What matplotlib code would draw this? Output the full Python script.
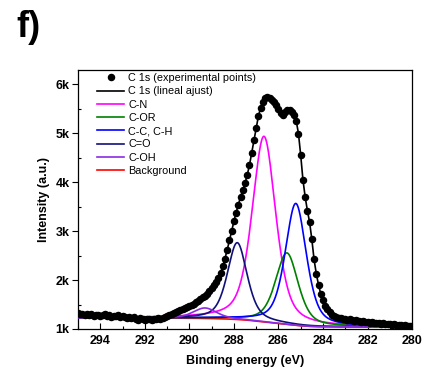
import numpy as np
import matplotlib
matplotlib.use("Agg")
import matplotlib.pyplot as plt
from matplotlib.ticker import MultipleLocator, FuncFormatter

plt.rcParams['font.family'] = ['Liberation Sans', 'DejaVu Sans']

# C 1s spectrum, 0.1 eV steps from 295.0 down to 280.0 eV
energy = [
    295.0, 294.9, 294.8, 294.7, 294.6, 294.5, 294.4, 294.3, 294.2, 294.1,
    294.0, 293.9, 293.8, 293.7, 293.6, 293.5, 293.4, 293.3, 293.2, 293.1,
    293.0, 292.9, 292.8, 292.7, 292.6, 292.5, 292.4, 292.3, 292.2, 292.1,
    292.0, 291.9, 291.8, 291.7, 291.6, 291.5, 291.4, 291.3, 291.2, 291.1,
    291.0, 290.9, 290.8, 290.7, 290.6, 290.5, 290.4, 290.3, 290.2, 290.1,
    290.0, 289.9, 289.8, 289.7, 289.6, 289.5, 289.4, 289.3, 289.2, 289.1,
    289.0, 288.9, 288.8, 288.7, 288.6, 288.5, 288.4, 288.3, 288.2, 288.1,
    288.0, 287.9, 287.8, 287.7, 287.6, 287.5, 287.4, 287.3, 287.2, 287.1,
    287.0, 286.9, 286.8, 286.7, 286.6, 286.5, 286.4, 286.3, 286.2, 286.1,
    286.0, 285.9, 285.8, 285.7, 285.6, 285.5, 285.4, 285.3, 285.2, 285.1,
    285.0, 284.9, 284.8, 284.7, 284.6, 284.5, 284.4, 284.3, 284.2, 284.1,
    284.0, 283.9, 283.8, 283.7, 283.6, 283.5, 283.4, 283.3, 283.2, 283.1,
    283.0, 282.9, 282.8, 282.7, 282.6, 282.5, 282.4, 282.3, 282.2, 282.1,
    282.0, 281.9, 281.8, 281.7, 281.6, 281.5, 281.4, 281.3, 281.2, 281.1,
    281.0, 280.9, 280.8, 280.7, 280.6, 280.5, 280.4, 280.3, 280.2, 280.1,
    280.0,
]
intensity = [
    1320, 1300, 1310, 1290, 1300, 1280, 1300, 1270, 1290, 1280,
    1270, 1290, 1300, 1270, 1280, 1250, 1270, 1260, 1280, 1250,
    1260, 1240, 1230, 1250, 1220, 1240, 1210, 1190, 1220, 1200,
    1190, 1210, 1200, 1190, 1210, 1200, 1220, 1210, 1230, 1240,
    1260, 1280, 1300, 1320, 1340, 1360, 1390, 1410, 1430, 1450,
    1470, 1500, 1520, 1550, 1580, 1610, 1650, 1680, 1720, 1770,
    1830, 1890, 1960, 2040, 2150, 2280, 2440, 2620, 2810, 3000,
    3200, 3380, 3540, 3700, 3840, 3980, 4150, 4350, 4600, 4860,
    5100, 5350, 5520, 5630, 5720, 5750, 5720, 5680, 5630, 5580,
    5500, 5420, 5380, 5440, 5480, 5470, 5440, 5380, 5250, 4990,
    4550, 4050, 3700, 3420, 3180, 2830, 2420, 2130, 1900, 1720,
    1590, 1480, 1400, 1340, 1290, 1260, 1240, 1230, 1220, 1210,
    1200, 1190, 1200, 1180, 1170, 1180, 1160, 1150, 1160, 1140,
    1150, 1130, 1140, 1120, 1130, 1120, 1110, 1120, 1100, 1110,
    1100, 1090, 1100, 1080, 1090, 1080, 1070, 1080, 1070, 1060,
    1070,
]

# Fitted components: centre (eV), height above background, FWHM (eV)
comp_labels = ['C-N', 'C-OR', 'C-C, C-H', 'C=O', 'C-OH']
comp_colors = ['#ff00ff', '#008000', '#0000ff', '#10107a', '#8a2be2']
comp_center = [286.65, 285.62, 285.22, 287.85, 289.30]
comp_height = [3790, 1460, 2490, 1570, 215]
comp_fwhm = [1.25, 1.20, 1.12, 1.05, 1.25]
gl_mix = 0.5

# Background end levels (high and low binding energy side)
bg_high, bg_low = 1232, 1040

x = np.array(energy)
y = np.array(intensity, dtype=float)

# Shirley-type background built from the measured spectrum
order = np.argsort(x)
xs, ys = x[order], y[order]
sig = np.clip(ys - bg_low, 0, None)
cum = np.concatenate([[0], np.cumsum(0.5 * (sig[1:] + sig[:-1]) * np.diff(xs))])
bg_sorted = bg_low + (bg_high - bg_low) * cum / cum[-1]
xf = np.linspace(280.0, 295.0, 1201)
bg_f = np.interp(xf, xs, bg_sorted)


def pseudo_voigt(e, c, h, w, eta):
    d2 = ((e - c) / w) ** 2
    return h * ((1 - eta) * np.exp(-4 * np.log(2) * d2) + eta / (1 + 4 * d2))


fig = plt.figure(figsize=(4.27, 3.81), dpi=100)
ax = fig.add_axes([0.1827, 0.1365, 0.7823, 0.6795])

ax.plot(x, y, 'o', color='black', ms=4.4, label='C 1s (experimental points)', zorder=5)
ax.plot(x, y, '-', color='black', lw=1.2, label='C 1s (lineal ajust)', zorder=6)
for lab, col, c, h, w in zip(comp_labels, comp_colors, comp_center, comp_height, comp_fwhm):
    ax.plot(xf, bg_f + pseudo_voigt(xf, c, h, w, gl_mix), color=col, lw=1.2, label=lab, zorder=4)
ax.plot(xf, bg_f, color='#ff0000', lw=1.2, label='Background', zorder=3)

ax.set_xlim(295, 280)
ax.set_ylim(1000, 6290)
ax.xaxis.set_major_locator(MultipleLocator(2))
ax.xaxis.set_minor_locator(MultipleLocator(1))
ax.yaxis.set_major_locator(MultipleLocator(1000))
ax.yaxis.set_minor_locator(MultipleLocator(500))
ax.yaxis.set_major_formatter(FuncFormatter(lambda v, p: f"{int(round(v / 1000))}k"))
ax.xaxis.set_major_formatter(FuncFormatter(lambda v, p: f"{int(round(v))}"))

ax.tick_params(axis='x', which='major', direction='in', length=4, width=0.8, labelsize=9, pad=4)
ax.tick_params(axis='x', which='minor', direction='in', length=2, width=0.8)
ax.tick_params(axis='y', which='major', direction='out', length=4, width=0.8, labelsize=9, pad=2)
ax.tick_params(axis='y', which='minor', direction='in', length=2, width=0.8)
for lbl in ax.get_xticklabels() + ax.get_yticklabels():
    lbl.set_fontweight('bold')
for s in ax.spines.values():
    s.set_linewidth(0.9)

ax.set_xlabel('Binding energy (eV)', fontsize=9, fontweight='bold', labelpad=6)
ax.set_ylabel('Intensity (a.u.)', fontsize=9, fontweight='bold', labelpad=4)

leg = ax.legend(loc='upper left', frameon=False, fontsize=7.8, handlelength=2.5,
                handletextpad=0.35, labelspacing=0.3, borderaxespad=0.0,
                bbox_to_anchor=(0.045, 1.005))

fig.text(0.038, 0.975, 'f)', fontsize=26, fontweight='bold', va='top', ha='left')

fig.savefig('out.png', dpi=100)
